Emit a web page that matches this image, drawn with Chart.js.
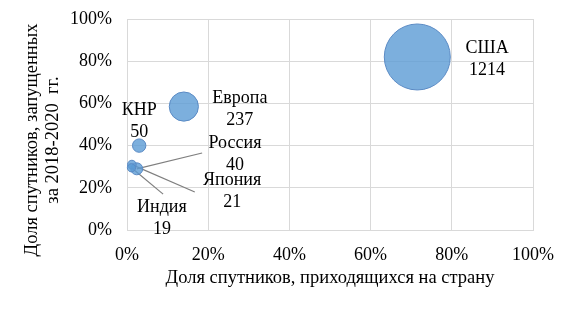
<!DOCTYPE html>
<html><head><meta charset="utf-8">
<script src="https://cdn.jsdelivr.net/npm/chart.js@4"></script>
<style>html,body{margin:0;padding:0;background:#fff}canvas{display:block}</style>
</head><body>
<canvas id="c" width="572" height="310"></canvas>
<script>
// Data
const countries = ['США', 'Европа', 'КНР', 'Россия', 'Япония', 'Индия'];
const satelliteCounts = [1214, 237, 50, 40, 21, 19];
const shareOfSatellites = [71.5, 14, 3, 2.4, 1.2, 1.1];      // x, %
const shareLaunched2018to2020 = [82, 58.5, 40, 29, 31, 29.5]; // y, %
const xTickValues = [0, 20, 40, 60, 80, 100];
const yTickValues = [0, 20, 40, 60, 80, 100];
const xTitle = 'Доля спутников, приходящихся на страну';
const yTitleLines = ['Доля спутников, запущенных', 'за 2018-2020  гг.'];
// label anchor positions (data units) and leader-line ends
const labelX = [88.7, 27.8, 3.0, 26.6, 25.9, 8.6];
const labelY = [81, 57.3, 51.7, 36, 18.2, 5.7];
const leaderX = [null, null, null, 18.5, 16.7, 8.9];
const leaderY = [null, null, null, 36.5, 18, 17];

const FONT = "'Liberation Serif', 'Times New Roman', serif";
const maxCount = Math.max(...satelliteCounts);
const maxRadius = 33;

const points = countries.map((c, i) => ({
  x: shareOfSatellites[i],
  y: shareLaunched2018to2020[i],
  r: maxRadius * Math.sqrt(satelliteCounts[i] / maxCount)
}));

const labelPlugin = {
  id: 'labels',
  beforeDatasetsDraw(chart) {
    const {ctx, scales: {x, y}} = chart;
    ctx.save();
    ctx.strokeStyle = '#7f7f7f';
    ctx.lineWidth = 1.2;
    countries.forEach((c, i) => {
      if (leaderX[i] === null) return;
      ctx.beginPath();
      ctx.moveTo(x.getPixelForValue(shareOfSatellites[i]), y.getPixelForValue(shareLaunched2018to2020[i]));
      ctx.lineTo(x.getPixelForValue(leaderX[i]), y.getPixelForValue(leaderY[i]));
      ctx.stroke();
    });
    ctx.restore();
  },
  afterDatasetsDraw(chart) {
    const {ctx, scales: {x, y}} = chart;
    ctx.save();
    ctx.font = '18px ' + FONT;
    ctx.fillStyle = '#000';
    ctx.textAlign = 'center';
    ctx.textBaseline = 'middle';
    countries.forEach((c, i) => {
      const px = x.getPixelForValue(labelX[i]);
      const py = y.getPixelForValue(labelY[i]);
      ctx.fillText(c, px, py - 11);
      ctx.fillText(String(satelliteCounts[i]), px, py + 11);
    });
    // y-axis title (two rotated lines)
    ctx.font = '18.5px ' + FONT;
    ctx.translate(32, 140);
    ctx.rotate(-Math.PI / 2);
    yTitleLines.forEach((t, k) => ctx.fillText(t, 0, k * 21));
    ctx.restore();
  }
};

new Chart(document.getElementById('c'), {
  type: 'bubble',
  data: {
    datasets: [{
      data: points,
      backgroundColor: 'rgba(91,155,213,0.8)',
      borderColor: '#5a8ac4',
      borderWidth: 1,
      clip: false
    }]
  },
  options: {
    responsive: false,
    animation: false,
    devicePixelRatio: 1,
    layout: {autoPadding: false, padding: {left: 0, right: 39, top: 19, bottom: 0}},
    plugins: {legend: {display: false}, tooltip: {enabled: false}},
    scales: {
      x: {
        type: 'linear', min: 0, max: 100,
        afterBuildTicks(s) { s.ticks = xTickValues.map(v => ({value: v})); },
        afterFit(s) { s.height = 80; s.paddingLeft = 0; s.paddingRight = 0; s.paddingTop = 0; s.paddingBottom = 0; },
        grid: {color: '#d9d9d9', drawTicks: false, lineWidth: 1},
        border: {color: '#d9d9d9', width: 1},
        ticks: {padding: 14, color: '#000', font: {family: FONT, size: 18}, callback: v => v + '%', maxRotation: 0},
        title: {display: true, text: xTitle, color: '#000',
                font: {family: FONT, size: 18.5, lineHeight: 1.17}, padding: {top: 0, bottom: 21}}
      },
      y: {
        type: 'linear', min: 0, max: 100,
        afterBuildTicks(s) { s.ticks = yTickValues.map(v => ({value: v})); },
        afterFit(s) { s.width = 127; s.paddingTop = 0; s.paddingBottom = 0; s.paddingLeft = 0; s.paddingRight = 0; },
        grid: {color: '#d9d9d9', drawTicks: false, lineWidth: 1},
        border: {color: '#d9d9d9', width: 1},
        ticks: {padding: 15, color: '#000', font: {family: FONT, size: 18}, callback: v => v + '%'},
        title: {display: false}
      }
    }
  },
  plugins: [labelPlugin]
});
</script>
</body></html>
